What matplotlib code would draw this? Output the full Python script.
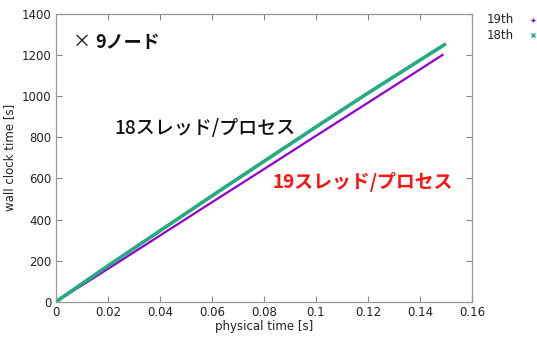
import matplotlib
matplotlib.use("Agg")
import matplotlib.pyplot as plt

# values at a few physical times
t_19 = [0.0, 0.02, 0.04, 0.06, 0.08, 0.10, 0.12, 0.149]
w_19 = [0, 160, 322, 484, 645, 807, 968, 1203]
t_18 = [0.0, 0.02, 0.04, 0.06, 0.08, 0.10, 0.12, 0.150]
w_18 = [0, 175, 345, 515, 683, 850, 1015, 1255]
series_labels = ["19th", "18th"]

xticks = [0, 0.02, 0.04, 0.06, 0.08, 0.1, 0.12, 0.14, 0.16]
xtick_labels = ["0", "0.02", "0.04", "0.06", "0.08", "0.1", "0.12", "0.14", "0.16"]
yticks = [0, 200, 400, 600, 800, 1000, 1200, 1400]

PURPLE = "#9400d3"
GREEN = "#24ab83"
JP = ["Noto Sans CJK JP", "DejaVu Sans"]

plt.rcParams["font.family"] = ["DejaVu Sans"]

fig = plt.figure(figsize=(5.37, 3.38), dpi=100)
ax = fig.add_axes([0.104, 0.107, 0.775, 0.852])

ax.plot(t_19, w_19, color=PURPLE, lw=1.6, solid_capstyle="butt")
ax.plot(t_18, w_18, color=GREEN, lw=2.6, solid_capstyle="butt")

ax.set_xlim(0, 0.16)
ax.set_ylim(0, 1400)
ax.set_xticks(xticks)
ax.set_xticklabels(xtick_labels)
ax.set_yticks(yticks)
ax.tick_params(direction="in", top=True, right=True, length=4, width=0.8,
               color="#888888", labelsize=8.5, labelcolor="#222222", pad=3)
for sp in ax.spines.values():
    sp.set_color("#999999")
    sp.set_linewidth(0.9)

ax.set_xlabel("physical time [s]", fontsize=8.5, color="#222222", labelpad=1)
ax.set_ylabel("wall clock time [s]", fontsize=8.5, color="#222222", labelpad=4)

# legend outside on the right, gnuplot style (text then marker)
fig.text(0.906, 0.942, series_labels[0], fontsize=8.5, color="#222222", va="center")
fig.text(0.906, 0.896, series_labels[1], fontsize=8.5, color="#222222", va="center")
fig.lines.append(plt.Line2D([0.992], [0.942], transform=fig.transFigure,
                            marker="+", ms=3, color=PURPLE, lw=0))
fig.lines.append(plt.Line2D([0.992], [0.896], transform=fig.transFigure,
                            marker="x", ms=3, color=GREEN, lw=0))

# annotations
fig.text(0.136, 0.875, "×", family=JP, fontsize=13, color="#111111", va="center")
fig.text(0.178, 0.875, "9ノード", family=JP, fontsize=13, fontweight="bold",
         color="#111111", va="center")
fig.text(0.213, 0.621, "18スレッド/プロセス", family=JP, fontsize=13.7,
         fontweight="medium", color="#111111", va="center")
fig.text(0.507, 0.462, "19スレッド/プロセス", family=JP, fontsize=13.6,
         fontweight="bold", color="#ff1111", va="center")

fig.savefig("out.png", dpi=100)
